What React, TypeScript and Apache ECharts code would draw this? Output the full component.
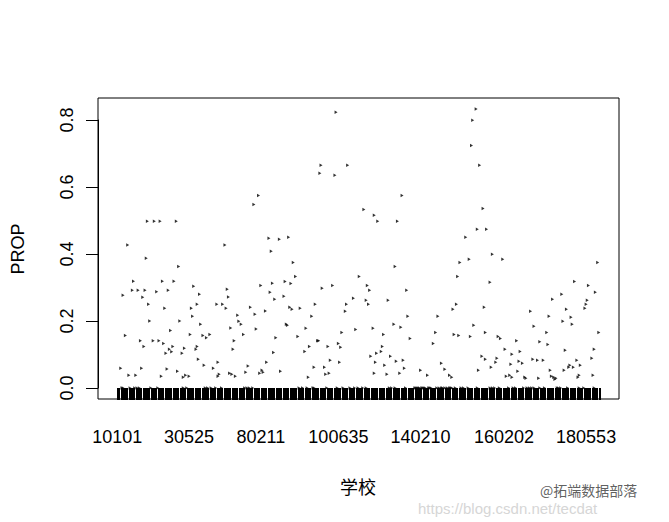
import React, { useEffect, useRef } from "react";
import * as echarts from "echarts";

// number of schools on the factor axis
const schoolCount = 418;
// school codes that R printed under the axis, with their positions on the factor
const tickLabelIndex = [0, 62, 124, 191, 262, 334, 405];
const tickLabels = ["10101", "30525", "80211", "100635", "140210", "160202", "180553"];
const yTicks = [0, 0.2, 0.4, 0.6, 0.8];

// [school index, PROP]
const pointsA: [number, number][] = [
  [122,0.575],[118,0.548],[26,0.498],[32,0.498],[37,0.498],[51,0.498],[131,0.447],[140,0.444],[9,0.427],[93,0.427],
  [133,0.408],[25,0.387],[53,0.363],[14,0.319],[39,0.319],[49,0.319],[134,0.313],[124,0.306],[66,0.304],[13,0.292],
  [18,0.292],[24,0.292],[44,0.292],[34,0.287],[95,0.295],[132,0.286],[5,0.277],[71,0.28],[22,0.271],[96,0.272],
  [136,0.265],[27,0.25],[86,0.25],[91,0.25],[69,0.25],[94,0.238],[41,0.238],[64,0.238],[115,0.241],[128,0.23],
  [119,0.22],[104,0.217],[65,0.214],[28,0.2],[54,0.2],[105,0.199],[107,0.19],[72,0.19],[98,0.179],[120,0.176],
  [46,0.172],[7,0.157],[63,0.16],[74,0.157],[80,0.16],[77,0.15],[109,0.16],[137,0.15],[20,0.141],[31,0.141],
  [36,0.141],[101,0.141],[40,0.133],[23,0.124],[48,0.124],[69,0.124],[45,0.116],[47,0.108],[58,0.119],[68,0.116],
  [100,0.116],[42,0.104],[56,0.104],[135,0.106],[70,0.086],[87,0.077],[129,0.077],[75,0.068],[113,0.066],[83,0.059],
  [3,0.059],[21,0.059],[43,0.057],[52,0.05],[125,0.053],[126,0.047],[123,0.044],[111,0.047],[10,0.038],[16,0.038],
  [38,0.035],[59,0.038],[57,0.032],[62,0.035],[88,0.041],[87,0.035],[97,0.044],[99,0.041],[102,0.035]
];
const pointsB: [number, number][] = [
  [189,0.823],[176,0.665],[199,0.665],[175,0.641],[188,0.635],[246,0.575],[213,0.533],[222,0.516],[225,0.498],[242,0.498],
  [148,0.45],[152,0.375],[240,0.363],[154,0.333],[209,0.333],[145,0.318],[150,0.312],[186,0.306],[216,0.306],[177,0.298],
  [218,0.292],[250,0.292],[144,0.274],[204,0.268],[215,0.262],[234,0.262],[171,0.25],[198,0.25],[217,0.25],[149,0.241],
  [151,0.235],[158,0.238],[197,0.229],[290,0.235],[168,0.214],[251,0.214],[277,0.214],[146,0.19],[147,0.187],[239,0.19],
  [245,0.181],[163,0.178],[206,0.175],[221,0.178],[194,0.166],[275,0.166],[230,0.16],[291,0.16],[156,0.154],[253,0.148],
  [174,0.141],[173,0.141],[191,0.133],[273,0.133],[166,0.124],[182,0.124],[193,0.122],[229,0.124],[162,0.109],[228,0.109],
  [224,0.104],[219,0.095],[236,0.095],[184,0.083],[192,0.077],[223,0.077],[241,0.08],[247,0.083],[280,0.074],[231,0.068],
  [170,0.062],[179,0.062],[248,0.059],[283,0.056],[141,0.05],[262,0.053],[180,0.041],[183,0.044],[222,0.044],[233,0.041],
  [244,0.044],[268,0.038],[287,0.038],[289,0.032],[165,0.032]
];
const pointsC: [number, number][] = [
  [310,0.833],[307,0.799],[306,0.724],[313,0.665],[316,0.536],[311,0.474],[319,0.474],[301,0.45],[324,0.399],[333,0.384],
  [296,0.375],[304,0.384],[415,0.375],[294,0.333],[322,0.316],[395,0.318],[407,0.306],[384,0.28],[413,0.286],[376,0.265],
  [406,0.262],[405,0.25],[404,0.238],[293,0.25],[317,0.241],[388,0.235],[357,0.229],[373,0.214],[392,0.211],[385,0.199],
  [393,0.19],[308,0.187],[360,0.184],[416,0.166],[371,0.166],[295,0.157],[305,0.154],[318,0.166],[329,0.154],[331,0.148],
  [345,0.141],[365,0.138],[372,0.13],[335,0.116],[412,0.116],[387,0.113],[348,0.109],[341,0.101],[315,0.095],[318,0.086],
  [328,0.089],[327,0.077],[359,0.086],[363,0.083],[368,0.083],[347,0.08],[350,0.074],[410,0.089],[397,0.083],[340,0.071],
  [323,0.062],[400,0.068],[390,0.062],[391,0.068],[394,0.062],[312,0.053],[374,0.053],[346,0.05],[386,0.053],[336,0.035],
  [339,0.038],[341,0.032],[352,0.032],[353,0.029],[364,0.029],[375,0.035],[377,0.032],[379,0.029],[378,0.026],[399,0.038],
  [398,0.032],[411,0.038]
];
// schools whose PROP is 0
const zeroSchools = [
  4,5,11,15,17,19,29,35,57,60,76,78,81,85,90,110,112,114,117,
  157,160,164,169,170,181,190,195,201,205,208,212,215,235,237,240,249,
  257,258,259,260,261,263,264,265,266,269,270,271,276,278,280,281,283,285,287,289,
  288,292,297,299,303,311,322,324,326,330,338,342,344,351,354,356,358,360,365,369,380,381,383,389,399,403,412
];

const categories = Array.from({ length: schoolCount }, (_, i) => {
  const k = tickLabelIndex.indexOf(i);
  return k >= 0 ? tickLabels[k] : "s" + (i + 1);
});

export default function App() {
  const ref = useRef<HTMLDivElement>(null);
  useEffect(() => {
    if (!ref.current) return;
    const chart = echarts.init(ref.current, null, { renderer: "svg" });
    const data = [...pointsA, ...pointsB, ...pointsC, ...zeroSchools.map((i) => [i, 0])];
    const font = "Liberation Sans, Arial, sans-serif";
    chart.setOption({
      animation: false,
      backgroundColor: "#ffffff",
      grid: [
        { left: 98, top: 98, width: 521, height: 301, show: true, borderColor: "#000", borderWidth: 1, backgroundColor: "transparent" },
        { left: 117.3, top: 120, width: 482.7, height: 268, show: false }
      ],
      xAxis: [
        {
          type: "category",
          gridIndex: 1,
          data: categories,
          boundaryGap: false,
          offset: 11,
          axisLine: { show: false },
          axisTick: {
            show: true,
            interval: 0,
            length: 12,
            lineStyle: { color: "#000", width: 1 }
          },
          axisLabel: {
            interval: (idx: number) => tickLabelIndex.indexOf(idx) >= 0,
            color: "#000",
            fontSize: 18,
            fontFamily: font,
            margin: 29
          },
          splitLine: { show: false }
        },
        { type: "value", gridIndex: 0, show: false, min: 0, max: 1 }
      ],
      yAxis: [
        {
          type: "value",
          gridIndex: 1,
          min: yTicks[0],
          max: yTicks[yTicks.length - 1],
          interval: 0.2,
          offset: 19.3,
          axisLine: { show: true, lineStyle: { color: "#000", width: 1 } },
          axisTick: { show: true, length: 12, lineStyle: { color: "#000", width: 1 } },
          axisLabel: {
            rotate: 90,
            color: "#000",
            fontSize: 18,
            fontFamily: font,
            margin: 22,
            formatter: (v: number) => v.toFixed(1)
          },
          splitLine: { show: false }
        },
        { type: "value", gridIndex: 0, show: false, min: 0, max: 1 }
      ],
      series: [
        {
          type: "scatter",
          xAxisIndex: 0,
          yAxisIndex: 0,
          data,
          clip: false,
          symbol: "path://M0,0L0,3L2,1.5Z",
          symbolSize: [3, 3.5],
          itemStyle: { color: "#000" }
        }
      ],
      graphic: [
        {
          type: "text",
          x: 18,
          y: 249,
          rotation: Math.PI / 2,
          style: { text: "PROP", font: "18px " + font, fill: "#000", align: "center", verticalAlign: "middle" }
        },
        {
          type: "text",
          x: 358,
          y: 486,
          style: { text: "学校", font: "18px 'Noto Sans CJK SC'", fill: "#000", align: "center", verticalAlign: "middle" }
        },
        {
          type: "text",
          x: 418,
          y: 508,
          style: { text: "https://blog.csdn.net/tecdat", font: "15px " + font, fill: "#d6d6d6", align: "left", verticalAlign: "middle" }
        },
        {
          type: "text",
          x: 540,
          y: 490,
          style: { text: "@拓端数据部落", font: "14px 'Noto Sans CJK SC'", fill: "#444", align: "left", verticalAlign: "middle", opacity: 0.85 }
        }
      ]
    });
    return () => chart.dispose();
  }, []);
  return (
    <div
      ref={ref}
      style={{ position: "fixed", left: 0, top: 0, width: 669, height: 522, background: "#fff" }}
    />
  );
}
